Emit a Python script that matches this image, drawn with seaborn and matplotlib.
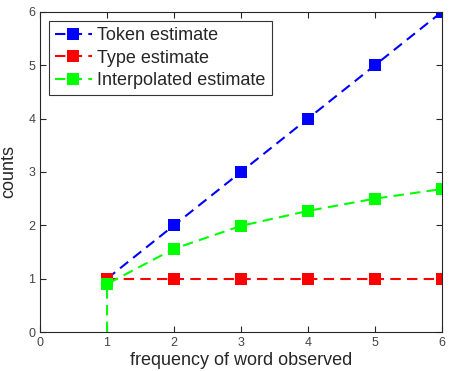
import matplotlib
matplotlib.use("Agg")
import matplotlib.pyplot as plt
import seaborn as sns
import pandas as pd

freq = [1, 2, 3, 4, 5, 6]
token_est = [1, 2, 3, 4, 5, 6]
type_est = [1, 1, 1, 1, 1, 1]
# interpolated curve starts at (1, 0) with no marker
interp_x = [1, 1, 2, 3, 4, 5, 6]
interp_est = [0, 0.9, 1.56, 1.99, 2.27, 2.5, 2.68]

sns.set_style("ticks")
plt.rcParams['font.family'] = ['Liberation Sans', 'DejaVu Sans']

fig, ax = plt.subplots(figsize=(4.5, 3.71), dpi=100)
fig.subplots_adjust(left=0.089, right=0.982, top=0.968, bottom=0.105)

df_tok = pd.DataFrame({"x": freq, "y": token_est})
df_typ = pd.DataFrame({"x": freq, "y": type_est})
df_int = pd.DataFrame({"x": interp_x, "y": interp_est})

style = dict(linestyle=(0, (5, 3)), marker="s", markersize=9, markeredgewidth=0,
             lw=1.5, estimator=None, sort=False)
sns.lineplot(data=df_tok, x="x", y="y", ax=ax, color="#0000ff",
             label="Token estimate", **style)
sns.lineplot(data=df_typ, x="x", y="y", ax=ax, color="#ff0000",
             label="Type estimate", **style)
sns.lineplot(data=df_int, x="x", y="y", ax=ax, color="#00ff00",
             markevery=list(range(1, len(interp_x))),
             label="Interpolated estimate", **style)

ax.set_xlim(0, 6)
ax.set_ylim(0, 6)
ax.set_xticks(range(7))
ax.set_yticks(range(7))
ax.tick_params(direction="in", top=True, right=True, labelsize=9,
               labelcolor="#444444", length=4, width=0.8)
for s in ax.spines.values():
    s.set_visible(True)
    s.set_linewidth(0.8)
ax.set_xlabel("frequency of word observed", fontsize=13, labelpad=2)
ax.set_ylabel("counts", fontsize=13, labelpad=8)

leg = ax.legend(loc="upper left", fontsize=13, frameon=True, fancybox=False,
                edgecolor="black", handlelength=2.0, borderaxespad=0.5,
                labelspacing=0.3, handletextpad=0.3, borderpad=0.35)
leg.get_frame().set_linewidth(0.8)

fig.savefig("out.png", dpi=100)
